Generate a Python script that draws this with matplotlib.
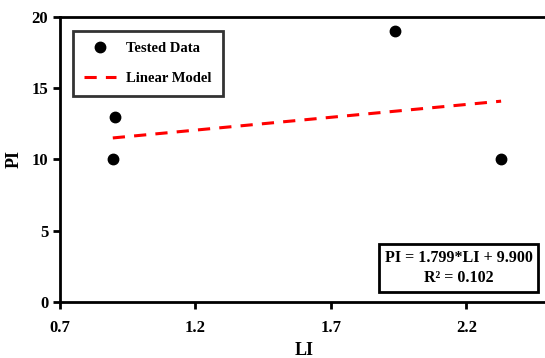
import numpy as np
import matplotlib
matplotlib.use('Agg')
import matplotlib.pyplot as plt

# tested data
li = [0.895, 0.903, 1.935, 2.328]
pi = [10, 13, 19, 10]

# linear model PI = 1.799*LI + 9.900
slope = 1.799
intercept = 9.900
r2 = 0.102

plt.rcParams['font.family'] = ['Liberation Serif', 'DejaVu Serif']
plt.rcParams['font.weight'] = 'bold'

fig = plt.figure(figsize=(5.45, 3.58), dpi=100)
ax = fig.add_axes([0.110, 0.156, 0.895, 0.797])

ax.plot(li, pi, 'o', color='black', markersize=7.5, label='Tested Data')
xl = np.array([min(li), max(li)])
ax.plot(xl, slope * xl + intercept, '--', color='red', lw=2.2, dashes=(4, 3), label='Linear Model')

ax.set_xlim(0.7, 2.5)
ax.set_ylim(0, 20)
ax.set_xticks([0.7, 1.2, 1.7, 2.2])
ax.set_yticks([0, 5, 10, 15, 20])
ax.set_xlabel('LI', fontsize=13, fontweight='bold', labelpad=4)
ax.set_ylabel('PI', fontsize=13, fontweight='bold', labelpad=6)
ax.tick_params(direction='out', width=2, length=5, labelsize=12, colors='black')
ax.tick_params(axis='x', pad=8)
for lab in ax.get_xticklabels() + ax.get_yticklabels():
    lab.set_fontweight('bold')
for s in ['left', 'bottom', 'top']:
    ax.spines[s].set_linewidth(2)
ax.spines['right'].set_visible(False)

leg = ax.legend(loc='upper left', bbox_to_anchor=(0.012, 0.975), fontsize=10.5,
                frameon=True, fancybox=False, edgecolor='black',
                borderpad=0.75, labelspacing=1.1, handlelength=2.2, handletextpad=0.7)
leg.get_frame().set_linewidth(2)
for t in leg.get_texts():
    t.set_fontweight('bold')

ax.text(0.818, 0.12, 'PI = %.3f*LI + %.3f\nR² = %.3f' % (slope, intercept, r2),
        transform=ax.transAxes, ha='center', va='center', fontsize=11.5,
        fontweight='bold', linespacing=1.35,
        bbox=dict(boxstyle='square,pad=0.35', fc='white', ec='black', lw=2))

fig.savefig('out.png', dpi=100)
